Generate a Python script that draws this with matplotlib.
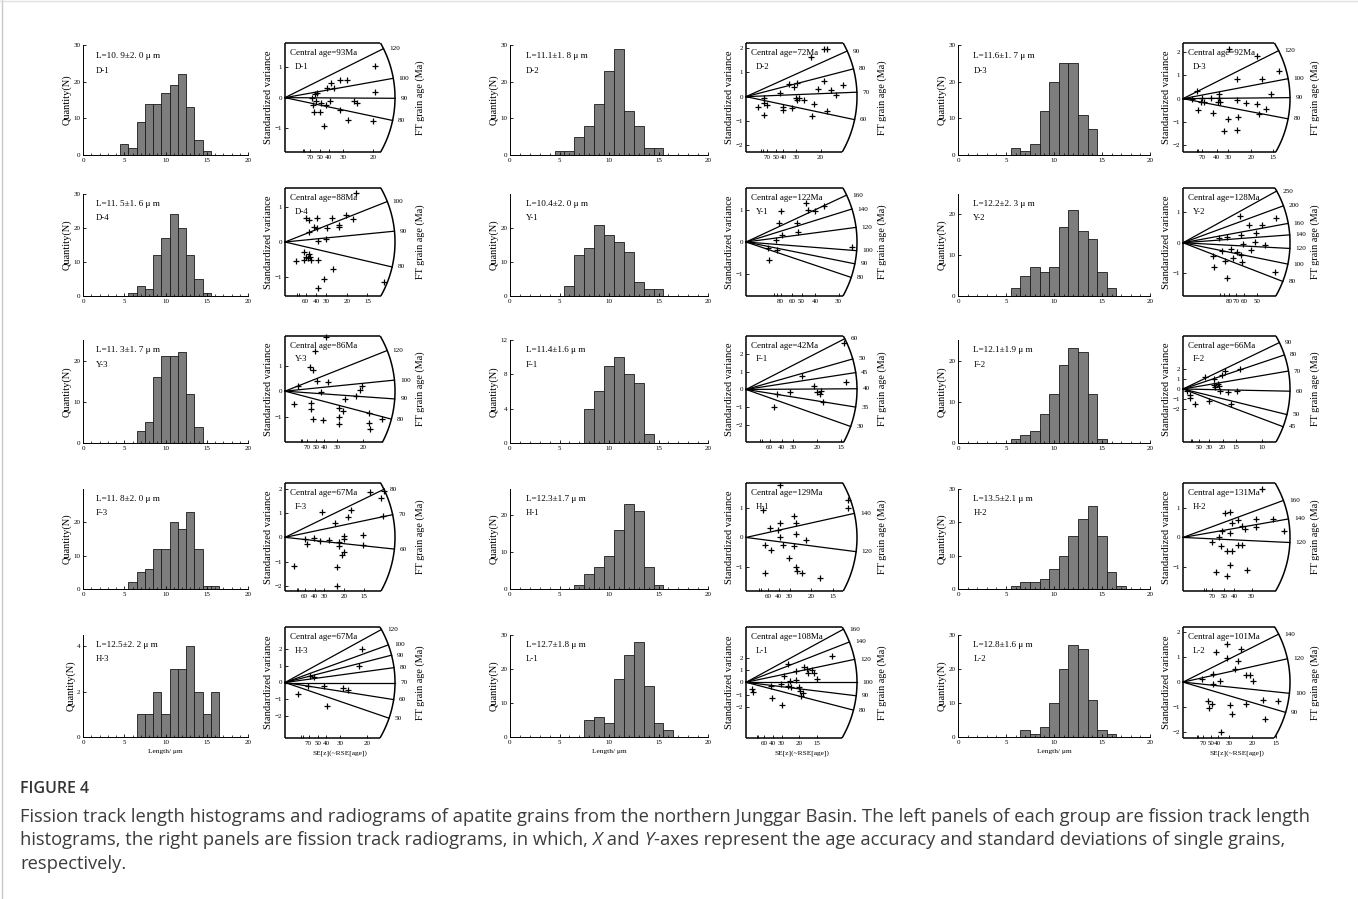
import numpy as np
import matplotlib
matplotlib.use("Agg")
import matplotlib.pyplot as plt
from matplotlib.lines import Line2D

plt.rcParams['font.family'] = ['Liberation Serif', 'DejaVu Serif']

# ---- data (row by row, left to right) ----
samples = ["D-1", "D-2", "D-3", "D-4", "Y-1", "Y-2", "Y-3", "F-1", "F-2",
           "F-3", "H-1", "H-2", "H-3", "L-1", "L-2"]

len_text = ["L=10. 9±2. 0 μ m", "L=11.1±1. 8 μ m", "L=11.6±1. 7 μ m",
            "L=11. 5±1. 6 μ m", "L=10.4±2. 0 μ m", "L=12.2±2. 3 μ m",
            "L=11. 3±1. 7 μ m", "L=11.4±1.6 μ m", "L=12.1±1.9 μ m",
            "L=11. 8±2. 0 μ m", "L=12.3±1.7 μ m", "L=13.5±2.1 μ m",
            "L=12.5±2. 2 μ m", "L=12.7±1.8 μ m", "L=12.8±1.6 μ m"]

# track length histograms, 1 um bins, first_bin = centre of first bar
first_bin = [5, 5, 6, 6, 6, 6, 7, 8, 6, 6, 7, 6, 7, 8, 7]
counts = [
    [3, 2, 9, 14, 14, 17, 19, 22, 13, 4, 1],
    [1, 1, 5, 8, 14, 23, 29, 12, 8, 2, 2],
    [2, 1, 3, 12, 20, 25, 25, 11, 7],
    [1, 3, 2, 12, 17, 24, 20, 12, 5, 1],
    [3, 12, 14, 21, 18, 16, 13, 4, 2, 2],
    [2, 5, 7, 6, 7, 17, 21, 16, 14, 6, 2],
    [3, 5, 16, 21, 21, 22, 12, 4],
    [4, 6, 9, 10, 8, 7, 1],
    [1, 2, 3, 7, 12, 19, 23, 22, 12, 1],
    [2, 5, 6, 12, 12, 20, 18, 23, 12, 1, 1],
    [1, 4, 6, 9, 16, 23, 21, 6, 1],
    [1, 2, 2, 3, 6, 10, 16, 21, 25, 16, 5, 1],
    [1, 1, 2, 1, 3, 3, 4, 2, 1, 2],
    [5, 6, 4, 17, 24, 28, 15, 4, 2],
    [2, 1, 3, 10, 20, 27, 26, 11, 2, 1],
]
hist_ymax = [30, 30, 30, 30, 30, 25, 25, 12, 25, 30, 27, 30, 4.5, 30, 30]
hist_yticks = [[0, 10, 20, 30], [0, 10, 20, 30], [0, 10, 20, 30], [0, 10, 20, 30],
               [0, 10, 20], [0, 10, 20], [0, 10, 20], [0, 4, 8, 12], [0, 10, 20],
               [0, 10, 20], [0, 10, 20], [0, 10, 20, 30], [0, 2, 4],
               [0, 10, 20, 30], [0, 10, 20, 30]]

# radial plots
central_age = [93, 72, 92, 88, 122, 128, 86, 42, 66, 67, 129, 131, 67, 108, 101]
ray_ages = [[80, 90, 100, 120], [60, 70, 80, 90], [80, 90, 100, 120], [80, 90, 100],
            [80, 90, 100, 120, 140, 160], [80, 100, 120, 140, 160, 200, 250],
            [80, 90, 100, 120], [30, 35, 40, 45, 50, 60], [45, 50, 60, 70, 80, 90],
            [60, 70, 80], [120, 140], [120, 140, 160],
            [50, 60, 70, 80, 90, 100, 120], [80, 90, 100, 120, 140, 160],
            [90, 100, 120, 140]]
ray_ref = [90.3, 68.3, 89.5, 86.9, 107, 128, 94, 39.8, 61, 63.2, 127, 124, 70, 100, 106]
arc_x = [6.27, 7.44, 7.9, 8.9, 4.0, 2.9, 7.05, 7.8, 13.5, 9.3, 8.5, 5.2, 6.67, 10.4, 7.7]
rad_ylim = [(-1.77, 1.78), (-2.27, 2.2), (-2.3, 2.4), (-1.55, 1.55), (-1.68, 1.68),
            (-1.75, 1.8), (-2.0, 2.17), (-2.95, 3.0), (-5.4, 5.4), (-2.2, 2.23),
            (-1.8, 1.83), (-1.8, 1.83), (-3.3, 3.3), (-4.5, 4.47), (-2.23, 2.2)]
rad_yticks = [[-1, 0, 1], [-2, -1, 0, 1, 2], [-2, -1, 0, 1, 2], [-1, 0, 1], [-1, 0, 1],
              [-1, 0, 1], [-1, 0, 1], [-2, -1, 0, 1, 2], [-2, -1, 0, 1, 2],
              [-2, -1, 0, 1, 2], [-1, 0, 1], [-1, 0, 1], [-2, -1, 0, 1, 2],
              [-2, -1, 0, 1, 2], [-2, -1, 0, 1, 2]]
rse_ticks = [[70, 50, 40, 30, 20], [70, 50, 40, 30, 20], [70, 40, 30, 20, 15],
             [60, 40, 30, 20, 15], [80, 60, 50, 40, 30], [80, 70, 60, 50],
             [70, 50, 40, 30, 20], [60, 40, 30, 20, 15], [50, 30, 20, 15, 10],
             [60, 40, 30, 20, 15], [60, 40, 30, 20, 15], [70, 50, 40, 30],
             [70, 50, 40, 30, 20], [60, 40, 30, 20, 15], [70, 50, 40, 30, 20, 15]]

# single grains: precision (1/sigma) and standardised estimate
grain_x = [
    [5.15, 5.15, 3.13, 3.52, 2.62, 2.81, 2.4, 1.69, 1.85, 1.54, 1.6, 1.75, 2.08, 2.33,
     2.56, 3.13, 3.96, 4.1, 1.63, 1.98, 2.21, 3.58, 5.0],
    [4.33, 5.22, 5.44, 2.89, 3.22, 3.44, 5.22, 4.82, 5.67, 6.51, 6.0, 2.29, 3.33, 3.44,
     3.89, 1.18, 1.22, 1.44, 0.78, 2.51, 2.51, 3.11, 4.56, 1.22, 4.4, 5.44, 3.56],
    [3.38, 5.5, 7.08, 4.0, 5.8, 6.5, 1.0, 2.63, 2.63, 2.05, 1.38, 0.63, 1.33, 1.55,
     2.58, 2.75, 4.0, 4.63, 5.5, 6.13, 5.63, 1.08, 2.25, 3.3, 4.05, 3.0, 4.0],
    [5.75, 1.7, 1.92, 2.6, 3.84, 4.93, 5.53, 4.38, 4.38, 3.42, 2.33, 2.6, 1.97, 3.29,
     2.68, 0.9, 1.5, 1.7, 1.86, 2.05, 1.5, 1.97, 2.14, 2.68, 3.89, 3.15, 2.68, 8.03],
    [2.17, 2.24, 2.5, 2.8, 1.27, 1.2, 1.84, 1.31, 1.87, 1.07, 3.83, 0.8, 1.13, 0.84],
    [1.54, 1.79, 2.14, 2.53, 0.98, 1.2, 1.58, 1.99, 1.63, 1.94, 2.21, 1.07, 1.29, 1.46,
     1.56, 1.83, 0.8, 1.13, 1.36, 1.59, 0.85, 2.5, 1.2],
    [2.6, 1.94, 1.61, 1.78, 0.83, 2.78, 2.06, 2.33, 4.83, 4.94, 3.83, 4.56, 0.56, 1.67,
     1.67, 3.44, 3.72, 5.39, 1.78, 2.44, 3.44, 3.44, 5.39, 5.44, 6.22],
    [6.9, 3.94, 7.06, 4.81, 5.0, 5.3, 5.2, 3.1, 2.2, 5.4, 1.94],
    [2.75, 3.88, 4.92, 5.25, 7.2, 3.96, 4.38, 4.08, 4.5, 4.7, 5.67, 6.8, 0.83, 0.83,
     1.5, 3.33, 6.08, 0.54],
    [7.15, 8.1, 8.4, 3.14, 5.55, 5.33, 8.25, 4.23, 1.68, 2.41, 2.92, 3.72, 4.6, 4.6,
     5.0, 5.0, 5.0, 4.8, 1.82, 6.57, 6.57, 0.73, 4.38, 4.38],
    [2.6, 7.8, 7.8, 1.33, 3.67, 3.8, 2.6, 1.8, 2.47, 2.6, 3.8, 4.6, 3.67, 1.47, 1.93,
     2.8, 3.33, 3.8, 3.93, 4.27, 1.47, 5.67],
    [3.83, 2.04, 2.26, 3.53, 4.38, 2.68, 2.38, 2.89, 3.53, 1.91, 4.89, 3.02, 2.26, 1.74,
     1.4, 2.68, 1.83, 2.89, 2.13, 2.38, 2.26, 1.62, 2.13, 3.1],
    [4.65, 4.48, 1.52, 1.78, 1.41, 2.38, 3.54, 3.8, 0.81, 2.53],
    [8.1, 3.95, 5.46, 5.73, 6.22, 4.65, 5.84, 6.38, 6.65, 3.57, 4.1, 4.65, 3.3, 3.95,
     4.2, 4.92, 5.03, 5.3, 5.19, 0.6, 0.7, 2.43, 3.4, 2.3],
    [2.37, 3.16, 4.15, 3.16, 3.95, 3.75, 2.17, 1.38, 2.69, 2.17, 4.55, 4.82, 5.06, 1.78,
     2.06, 1.9, 3.36, 3.56, 4.55, 5.73, 6.84, 5.93, 2.77],
]
grain_z = [
    [1.02, 0.2, 0.56, 0.58, 0.49, 0.31, 0.31, 0.11, 0.14, -0.02, -0.24, -0.11, -0.19,
     -0.24, -0.11, -0.4, -0.11, -0.19, -0.46, -0.46, -0.92, -0.73, -0.75],
    [1.64, 1.97, 1.97, 0.53, 0.4, 0.56, 0.64, 0.31, 0.27, 0.47, 0.07, 0.16, -0.04,
     -0.13, -0.13, -0.07, -0.27, -0.33, -0.43, -0.44, -0.53, -0.47, -0.31, -0.77, -0.8,
     -0.6, -0.07],
    [2.15, 1.84, 1.19, 0.85, 0.85, 0.19, 0.34, 0.19, 0.04, 0.04, 0.04, -0.03, -0.15,
     -0.15, -0.15, -0.15, -0.07, -0.18, -0.21, -0.44, -0.66, -0.47, -0.62, -0.87,
     -0.81, -1.38, -1.35],
    [1.41, 0.68, 0.63, 0.68, 0.68, 0.78, 0.65, 0.5, 0.44, 0.41, 0.44, 0.39, 0.29, 0.1,
     0.03, -0.55, -0.51, -0.42, -0.46, -0.44, -0.29, -0.34, -0.53, -0.53, -0.78, -1.05,
     -1.33, -1.14],
    [1.22, 1.01, 0.95, 1.12, 0.96, 0.58, 0.58, 0.22, 0.32, 0.05, -0.15, -0.18, -0.26,
     -0.55],
    [0.89, 0.58, 0.58, 0.8, 0.17, 0.19, 0.24, 0.31, -0.03, 0.03, -0.09, -0.26, -0.19,
     -0.31, -0.39, -0.24, -0.44, -0.61, -0.5, -0.64, -0.81, -0.97, -1.17],
    [2.15, 1.59, 0.95, 0.84, 0.21, 0.35, 0.41, -0.05, 0.04, 0.21, -0.32, -0.19, -0.52,
     -0.48, -0.72, -0.65, -0.79, -0.85, -1.08, -1.12, -1.03, -1.28, -1.25, -1.48, -1.08],
    [2.6, 0.76, 0.39, 0.2, -0.17, -0.07, -0.26, -0.13, -0.26, -0.68, -1.0],
    [1.21, 1.05, 1.38, 1.8, 2.03, 0.39, 0.49, 0.16, 0.26, -0.16, -0.33, -0.16, -0.59,
     -0.89, -1.48, -1.25, -1.57, -0.16],
    [1.88, 1.6, 1.92, 1.05, 1.14, 0.82, 0.89, 0.59, -0.07, -0.04, -0.14, -0.1, -0.21,
     -0.34, 0.07, -0.07, -0.59, -0.73, -0.27, 0.1, -0.3, -1.16, -1.23, -1.99],
    [1.76, 1.26, 0.98, 0.92, 0.72, 0.48, 0.48, 0.31, 0.26, 0.0, 0.12, -0.08, -0.3,
     -0.24, -0.41, -0.24, -0.69, -0.99, -1.13, -1.19, -1.19, -1.36],
    [1.64, 0.83, 0.87, 0.61, 0.61, 0.59, 0.48, 0.37, 0.34, 0.23, 0.2, 0.28, 0.14, 0.01,
     -0.16, -0.27, -0.28, -0.24, -0.47, -0.47, -0.91, -1.16, -1.28, -1.08],
    [2.02, 0.97, 0.4, 0.3, -0.2, -0.2, -0.34, -0.44, -0.71, -1.41],
    [2.1, 1.45, 1.23, 1.1, 0.96, 0.9, 0.74, 0.74, 0.27, 0.55, 0.14, 0.19, -0.14, -0.27,
     -0.36, -0.41, -0.68, -0.9, -1.1, -0.55, -0.82, -1.29, -1.84, -0.27],
    [1.22, 1.53, 1.32, 0.95, 0.85, 0.54, 0.34, 0.11, 0.03, -0.09, 0.27, 0.27, 0.04,
     -0.77, -0.88, -1.04, -0.92, -1.26, -0.88, -0.72, -0.77, -1.46, -1.99],
]

caption_title = "FIGURE 4"
caption_lines = [
    ["Fission track length histograms and radiograms of apatite grains from the northern "
     "Junggar Basin. The left panels of each group are fission track length"],
    ["histograms, the right panels are fission track radiograms, in which, ", "X",
     " and ", "Y", "-axes represent the age accuracy and standard deviations of single grains,"],
    ["respectively."],
]

# ---- layout (pixels) ----
W, H = 1358, 899
hist_l = [83, 510, 958]
hist_r = [248, 708, 1150]
rad_l = [285, 746, 1183]
rad_r = [395, 857, 1290]
hist_t = [45, 194, 340, 489, 635]
hist_b = [155, 296, 443, 589, 737]
rad_t = [43, 188, 336, 483, 627]
rad_b = [152, 296, 442, 591, 738]


def box(l, r, t, b):
    return [l / W, 1 - b / H, (r - l) / W, (b - t) / H]


def draw_hist(ax, i, bottom_row):
    centers = np.arange(len(counts[i])) + first_bin[i]
    ax.bar(centers, counts[i], width=1.0, color='#7d7d7d', edgecolor='#1a1a1a', linewidth=0.6)
    ax.set_xlim(0, 20)
    ax.set_ylim(0, hist_ymax[i])
    ax.spines['top'].set_visible(False)
    ax.spines['right'].set_visible(False)
    for s in ['left', 'bottom']:
        ax.spines[s].set_linewidth(0.7)
    ax.set_xticks([0, 5, 10, 15, 20])
    ax.set_xticks(range(21), minor=True)
    ax.set_yticks(hist_yticks[i])
    ax.tick_params(direction='in', length=2.5, width=0.6, labelsize=5, pad=2)
    ax.tick_params(which='minor', direction='in', length=1.5, width=0.5)
    ax.set_ylabel("Quantity(N)", fontsize=7.5, labelpad=1)
    ax.text(0.08, 0.9, len_text[i], transform=ax.transAxes, fontsize=6.6, va='center')
    ax.text(0.08, 0.76, samples[i], transform=ax.transAxes, fontsize=6.3, va='center')
    if bottom_row:
        ax.set_xlabel("Length/ μm", fontsize=5.3, labelpad=3)


def draw_radial(ax, i, bottom_row):
    xa = arc_x[i]
    y0, y1 = rad_ylim[i]
    ax.set_xlim(0, xa)
    ax.set_ylim(y0, y1)
    for s in ax.spines.values():
        s.set_visible(False)
    pos = ax.get_position()
    w_px, h_px = pos.width * W, pos.height * H
    px_x = w_px / xa
    px_y = h_px / (y1 - y0)
    R = w_px
    tt = np.arcsin(min(1.0, y1 * px_y / R))
    tb = np.arcsin(min(1.0, -y0 * px_y / R))
    th = np.linspace(-tb, tt, 120)
    kw = dict(color='k', lw=1.1, clip_on=False, solid_capstyle='butt')
    ax.plot(R * np.cos(th) / px_x, R * np.sin(th) / px_y, **kw)
    ax.plot([0, 0], [y0, y1], **kw)
    ax.plot([0, R * np.cos(tt) / px_x], [y1, y1], **kw)
    ax.plot([0, R * np.cos(tb) / px_x], [y0, y0], **kw)
    for t in ray_ages[i]:
        a = np.arctan(np.log(t / ray_ref[i]) * px_y / px_x)
        xe, ye = R * np.cos(a) / px_x, R * np.sin(a) / px_y
        ax.plot([0, xe], [0, ye], color='k', lw=0.9, clip_on=False)
        ax.annotate(str(t), (xe, ye), xytext=(4, 0), textcoords='offset points',
                    fontsize=5.2, va='center', annotation_clip=False)
    ax.plot(grain_x[i], grain_z[i], '+', color='k', ms=5, mew=0.9, clip_on=False)
    ax.set_xticks([100.0 / r for r in rse_ticks[i]])
    ax.set_xticklabels([str(r) for r in rse_ticks[i]])
    ax.set_xticks([1.0, 100.0 / 90], minor=True)
    ax.set_yticks(rad_yticks[i])
    ax.tick_params(direction='in', length=2.5, width=0.6, labelsize=5, pad=2)
    ax.tick_params(which='minor', direction='in', length=2.5, width=0.6)
    ax.set_ylabel("Standardized variance", fontsize=7.6, labelpad=1)
    ax.text(1.0 + 25 / w_px, 0.5, "FT grain age (Ma)", rotation=90, transform=ax.transAxes,
            fontsize=7.3, va='center', ha='center')
    ax.text(0.045, 0.91, "Central age=%dMa" % central_age[i], transform=ax.transAxes,
            fontsize=6.5, va='center')
    ax.text(0.09, 0.78, samples[i], transform=ax.transAxes, fontsize=6.3, va='center')
    if bottom_row:
        ax.set_xlabel("SE[z](~RSE[age])", fontsize=5.3, labelpad=3)


def main():
    fig = plt.figure(figsize=(W / 100, H / 100), dpi=100)
    fig.patch.set_facecolor('white')
    for i in range(len(samples)):
        row, col = divmod(i, 3)
        bottom_row = row == 4
        axh = fig.add_axes(box(hist_l[col], hist_r[col], hist_t[row], hist_b[row]))
        draw_hist(axh, i, bottom_row)
        axr = fig.add_axes(box(rad_l[col], rad_r[col], rad_t[row], rad_b[row]))
        draw_radial(axr, i, bottom_row)

    # caption
    sans = ['Open Sans', 'DejaVu Sans']
    fig.text(20 / W, 1 - 789 / H, caption_title, fontsize=11.5, weight='semibold',
             family=sans, color='#333333', va='center')
    fig.canvas.draw()
    renderer = fig.canvas.get_renderer()
    for pieces, y in zip(caption_lines, [817, 840, 864]):
        x_px = 20
        for part in pieces:
            style = 'italic' if part in ("X", "Y") else 'normal'
            t = fig.text(x_px / W, 1 - y / H, part, va='center', style=style,
                         family=sans, fontsize=13.2, color='#3c3c3c')
            x_px += t.get_window_extent(renderer).width

    # thin page border (left / top)
    fig.add_artist(Line2D([1.5 / W, 1.5 / W], [0, 1], color='#c8c8c8', lw=1))
    fig.add_artist(Line2D([0, 1], [1 - 0.5 / H, 1 - 0.5 / H], color='#e0e0e0', lw=1))

    fig.savefig("out.png", dpi=100)


if __name__ == "__main__":
    main()
